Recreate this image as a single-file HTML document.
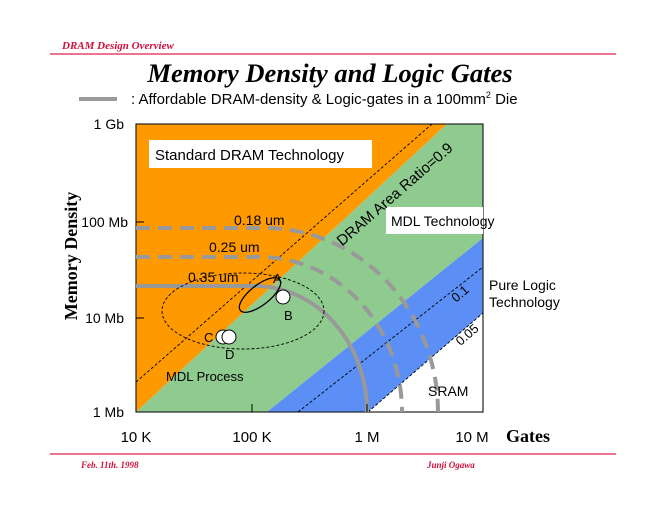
<!DOCTYPE html>
<html><head><meta charset="utf-8"><style>
body{margin:0;background:#fff}
svg{display:block}
.s{font-family:"Liberation Sans",sans-serif}
.r{font-family:"Liberation Serif",serif}
</style></head><body>
<svg width="660" height="510" viewBox="0 0 660 510" xmlns="http://www.w3.org/2000/svg">
<text x="62" y="49" class="r" font-size="11" font-style="italic" font-weight="bold" fill="#d0103a">DRAM Design Overview</text>
<line x1="50" y1="54" x2="616" y2="54" stroke="#e0204a" stroke-width="1.2"/>
<text x="330" y="82" class="r" font-size="26.5" font-style="italic" font-weight="bold" text-anchor="middle">Memory Density and Logic Gates</text>
<line x1="79" y1="99" x2="117" y2="99" stroke="#999" stroke-width="4"/>
<text x="131" y="104" class="s" font-size="15">: Affordable DRAM-density &amp; Logic-gates in a 100mm<tspan font-size="9" dy="-6">2</tspan><tspan dy="6"> Die</tspan></text>

<!-- regions -->
<rect x="136" y="124" width="347" height="288" fill="#fff"/>
<polygon points="136,124 447,124 136,412" fill="#ff9900"/>
<polygon points="447,124 483,124 483,238 267,412 136,412" fill="#8fcb8f"/>
<polygon points="483,238 483,313 368,412 267,412" fill="#5b8ff5"/>
<rect x="136" y="124" width="347" height="288" fill="none" stroke="#222" stroke-width="1.2"/>
<!-- dashed black lines -->
<line x1="136" y1="382" x2="432" y2="124" stroke="#000" stroke-width="0.9" stroke-dasharray="3,2"/>
<line x1="298" y1="412" x2="483" y2="267" stroke="#000" stroke-width="0.9" stroke-dasharray="3,2"/>
<line x1="368" y1="412" x2="483" y2="313" stroke="#000" stroke-width="0.9" stroke-dasharray="3,2"/>
<!-- gray curves -->
<path d="M136,286 L255,286 A112,126 0 0 1 367,412" fill="none" stroke="#999" stroke-width="4"/>
<path d="M136,257 L260,257 A142,155 0 0 1 402,412" fill="none" stroke="#999" stroke-width="4" stroke-dasharray="14,8"/>
<path d="M136,228 L265,228 A173,184 0 0 1 438,412" fill="none" stroke="#999" stroke-width="4" stroke-dasharray="14,8"/>
<!-- ellipses -->
<ellipse cx="243" cy="311" rx="81" ry="38" fill="none" stroke="#000" stroke-width="0.9" stroke-dasharray="3,2"/>
<ellipse cx="260" cy="295" rx="25" ry="10" transform="rotate(-38 260 295)" fill="none" stroke="#000" stroke-width="1.3"/>
<circle cx="283" cy="297" r="7" fill="#fff" stroke="#000"/>
<circle cx="223" cy="337" r="7" fill="#fff" stroke="#000"/>
<circle cx="229" cy="337" r="7" fill="#fff" stroke="#000"/>
<!-- labels -->
<rect x="149" y="140" width="223" height="28" fill="#fff"/>
<text x="155" y="160" class="s" font-size="15">Standard DRAM Technology</text>
<rect x="386" y="207" width="97" height="27" fill="#fff"/>
<text x="391" y="226" class="s" font-size="14">MDL Technology</text>
<text x="489" y="290" class="s" font-size="14">Pure Logic</text>
<text x="489" y="307" class="s" font-size="14">Technology</text>
<text x="428" y="396" class="s" font-size="14">SRAM</text>
<text x="166" y="381" class="s" font-size="13">MDL Process</text>
<text x="234" y="225" class="s" font-size="14">0.18 um</text>
<text x="209" y="252" class="s" font-size="14">0.25 um</text>
<text x="188" y="282" class="s" font-size="14">0.35 um</text>
<text x="273" y="283" class="s" font-size="13">A</text>
<text x="284" y="320" class="s" font-size="13">B</text>
<text x="204" y="342" class="s" font-size="13">C</text>
<text x="225" y="359" class="s" font-size="13">D</text>
<text x="398" y="198" class="s" font-size="15" text-anchor="middle" transform="rotate(-41 398 198)">DRAM Area Ratio=0.9</text>
<text x="463" y="297" class="s" font-size="13" text-anchor="middle" transform="rotate(-41 463 297)">0.1</text>
<text x="470" y="338" class="s" font-size="13" text-anchor="middle" transform="rotate(-41 470 338)">0.05</text>
<!-- ticks -->
<g stroke="#000" stroke-width="1">
<line x1="136" y1="222" x2="144" y2="222"/><line x1="136" y1="318" x2="144" y2="318"/>
<line x1="252" y1="412" x2="252" y2="404"/><line x1="367" y1="412" x2="367" y2="404"/>
</g>
<g class="s" font-size="14" text-anchor="end">
<text x="124" y="129">1 Gb</text>
<text x="128" y="227">100 Mb</text>
<text x="124" y="323">10 Mb</text>
<text x="124" y="417">1 Mb</text>
</g>
<g class="s" font-size="15" text-anchor="middle">
<text x="136" y="442">10 K</text>
<text x="252" y="442">100 K</text>
<text x="367" y="442">1 M</text>
<text x="472" y="442">10 M</text>
</g>
<text x="506" y="442" class="r" font-size="18" font-weight="bold">Gates</text>
<text transform="translate(77 256) rotate(-90)" class="r" font-size="18" font-weight="bold" text-anchor="middle">Memory Density</text>
<line x1="50" y1="454" x2="616" y2="454" stroke="#e0204a" stroke-width="1.2"/>
<text x="81" y="468" class="r" font-size="9" font-style="italic" font-weight="bold" fill="#d0103a">Feb.  11th. 1998</text>
<text x="427" y="468" class="r" font-size="9" font-style="italic" font-weight="bold" fill="#d0103a">Junji  Ogawa</text>
</svg>
</body></html>
